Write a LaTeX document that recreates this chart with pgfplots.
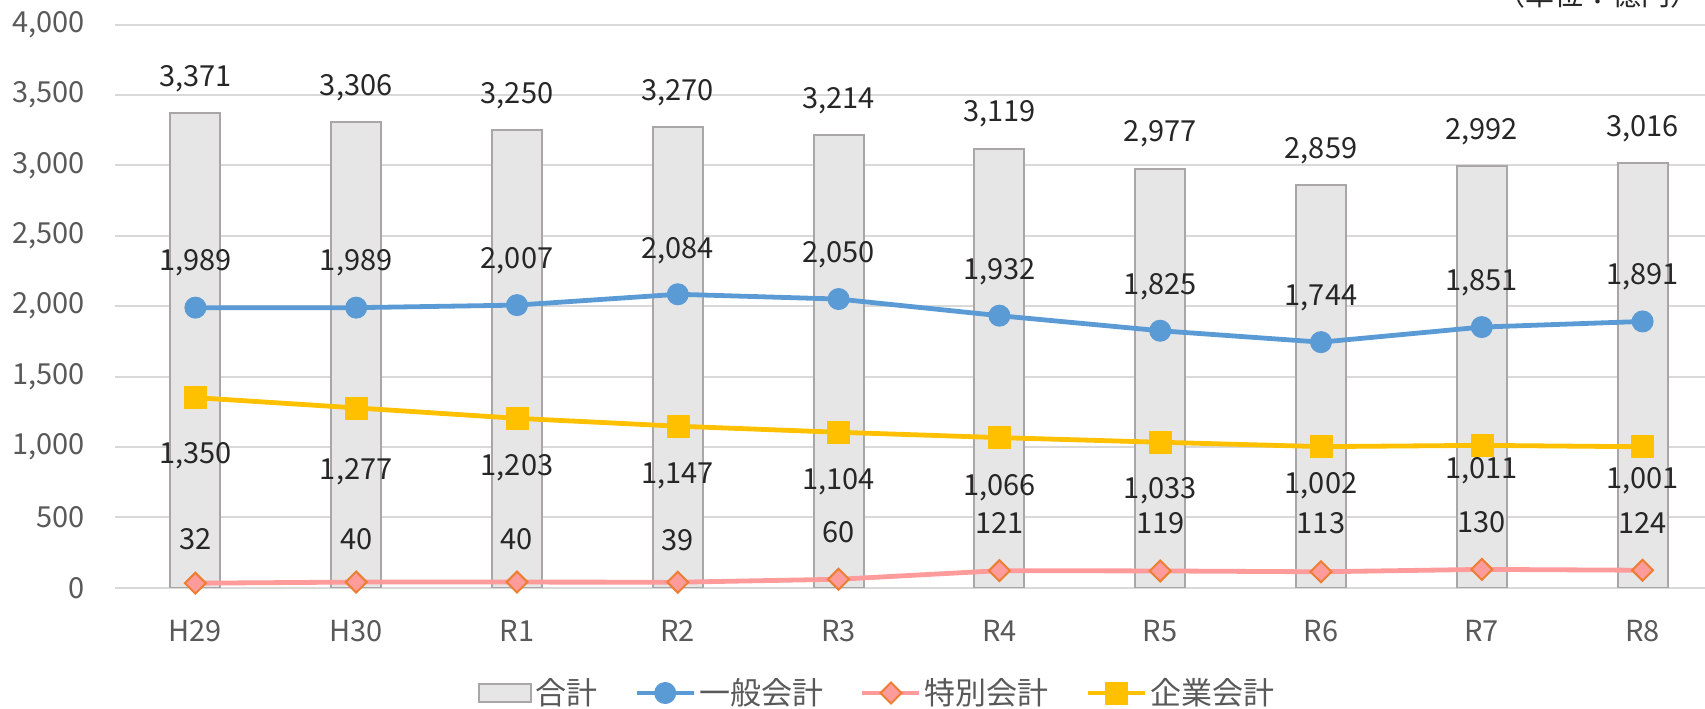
\documentclass[border=0pt]{standalone}
\usepackage{fontspec}
\setmainfont{Noto Sans CJK JP}
\usepackage{pgfplots}
\pgfplotsset{compat=1.18}
\definecolor{barfill}{HTML}{E6E6E6}
\definecolor{barline}{HTML}{A8A6A6}
\definecolor{cblue}{HTML}{5B9BD5}
\definecolor{cyellow}{HTML}{FFC000}
\definecolor{cpink}{HTML}{FF9B9B}
\definecolor{corange}{HTML}{ED7D31}
\definecolor{gridc}{HTML}{D9D9D9}
\definecolor{tickc}{HTML}{595959}
\definecolor{labc}{HTML}{262626}
\newcommand\numfont{\fontsize{14.5}{16}\selectfont}
\begin{document}
\begin{tikzpicture}
\useasboundingbox (-57.5pt,-60.15pt) rectangle (795pt,293.85pt);
\clip (-57.5pt,-60.15pt) rectangle (795pt,293.85pt);
\begin{axis}[
  at={(0pt,0pt)}, anchor=south west,
  scale only axis, width=804pt, height=281.6pt,
  xmin=-0.5, xmax=9.5, ymin=0, ymax=4000,
  axis line style={draw=none}, major tick length=0pt,
  ymajorgrids, grid style={draw=gridc, line width=1pt},
  xtick={0,...,9},
  xticklabels={H29,H30,R1,R2,R3,R4,R5,R6,R7,R8},
  ytick={0,500,...,4000},
  yticklabels={0,500,{1,000},{1,500},{2,000},{2,500},{3,000},{3,500},{4,000}},
  tick label style={font=\numfont, text=tickc},
  yticklabel style={anchor=east, inner sep=0pt, xshift=-15pt},
  xticklabel style={anchor=base, inner sep=0pt, yshift=-26.8pt},
  legend style={draw=none, fill=none, at={(0.4745,-0.187)}, anchor=center,
    legend columns=-1, font=\fontsize{15.5}{17}\selectfont, text=tickc,
    /tikz/every even column/.append style={column sep=17pt},
    inner sep=0pt, nodes={inner sep=1.5pt}},
  legend image code/.code={\draw[mark repeat=2,mark phase=2,#1] plot coordinates {(0pt,0pt) (14.25pt,0pt) (28.5pt,0pt)};},
]
% totals
\addplot[ybar, bar width=25pt, fill=barfill, draw=barline, line width=1pt,
  legend image code/.code={\draw[fill=barfill, draw=barline, line width=1pt] (0pt,-4.5pt) rectangle (26pt,4.5pt);}]
  table {
x y
0 3371
1 3306
2 3250
3 3270
4 3214
5 3119
6 2977
7 2859
8 2992
9 3016
};
\addlegendentry{合計}
% general account
\addplot[cblue, line width=2.4pt, mark=*, mark size=5.25pt, mark options={solid, fill=cblue, draw=cblue, line width=0.5pt}]
  table {
x y
0 1989
1 1989
2 2007
3 2084
4 2050
5 1932
6 1825
7 1744
8 1851
9 1891
};
\addlegendentry{一般会計}
% special account
\addplot[cpink, line width=2.4pt, mark=square*, mark size=3.7pt, mark options={solid, rotate=45, fill=cpink, draw=corange, line width=1pt}]
  table {
x y
0 32
1 40
2 40
3 39
4 60
5 121
6 119
7 113
8 130
9 124
};
\addlegendentry{特別会計}
% enterprise account
\addplot[cyellow, line width=2.4pt, mark=square*, mark size=5.5pt, mark options={solid, fill=cyellow, draw=cyellow, line width=0.3pt}]
  table {
x y
0 1350
1 1277
2 1203
3 1147
4 1104
5 1066
6 1033
7 1002
8 1011
9 1001
};
\addlegendentry{企業会計}
% data labels (value v placed at label position y)
\pgfplotsset{labelplot/.style={forget plot, draw=none, mark=none,
  nodes near coords={\pgfmathprintnumber[assume math mode=true,1000 sep={,}]{\pgfplotspointmeta}},
  point meta=explicit,
  every node near coord/.append style={anchor=base, inner sep=0pt, font=\numfont, text=labc}}}
\addplot[labelplot] table[meta=v] {
x y v
0 3561 3371
1 3496 3306
2 3440 3250
3 3460 3270
4 3404 3214
5 3309 3119
6 3167 2977
7 3049 2859
8 3182 2992
9 3206 3016
};
\addplot[labelplot] table[meta=v] {
x y v
0 2252 1989
1 2252 1989
2 2264 2007
3 2335 2084
4 2311 2050
5 2186 1932
6 2082 1825
7 2004 1744
8 2110 1851
9 2153 1891
};
\addplot[labelplot] table[meta=v] {
x y v
0 879 1350
1 766 1277
2 796 1203
3 737 1147
4 695 1104
5 654 1066
6 631 1033
7 671 1002
8 777 1011
9 706 1001
};
\addplot[labelplot] table[meta=v] {
x y v
0 269 32
1 271 40
2 271 40
3 264 39
4 323 60
5 387 121
6 387 119
7 382 113
8 394 130
9 387 124
};
\end{axis}
\node[anchor=base east, inner sep=0pt, font=\numfont, text=labc] at (792.35pt,290.85pt) {（単位：億円）};
\end{tikzpicture}
\end{document}
